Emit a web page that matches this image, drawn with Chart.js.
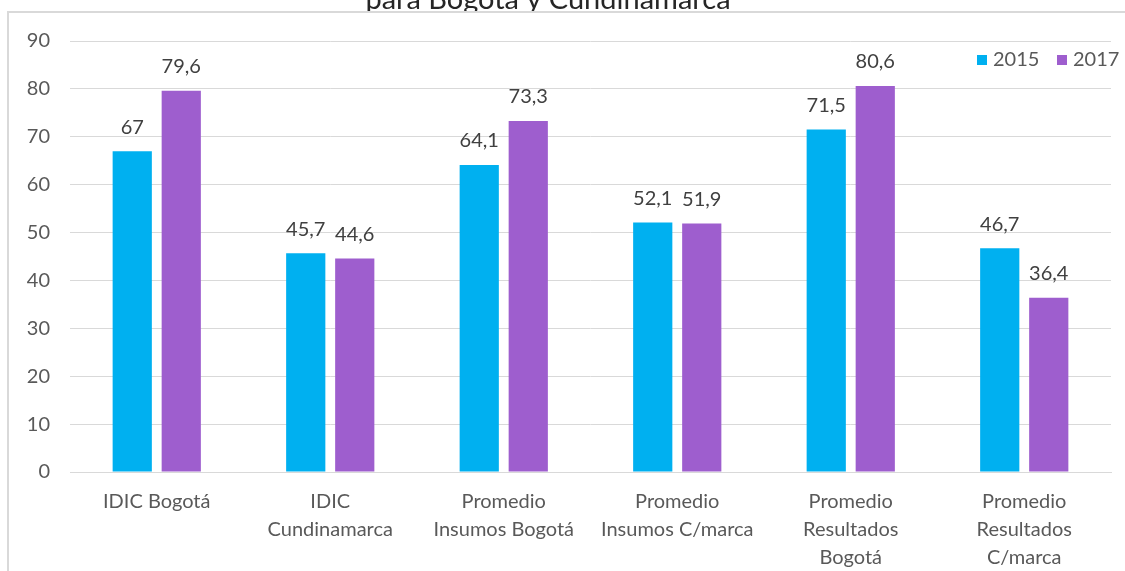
<!DOCTYPE html>
<html>
<head>
<meta charset="utf-8">
<script src="https://cdn.jsdelivr.net/npm/chart.js@4.4.1/dist/chart.umd.min.js"></script>
<style>
  html, body { margin: 0; padding: 0; background: #ffffff; }
  #wrap { width: 1125px; height: 571px; position: relative; }
</style>
</head>
<body>
<div id="wrap"><canvas id="c" width="1125" height="571"></canvas></div>
<script>
const categories = [
  ["IDIC Bogotá"],
  ["IDIC", "Cundinamarca"],
  ["Promedio", "Insumos Bogotá"],
  ["Promedio", "Insumos C/marca"],
  ["Promedio", "Resultados", "Bogotá"],
  ["Promedio", "Resultados", "C/marca"]
];
const seriesNames = ["2015", "2017"];
const values2015 = [67, 45.7, 64.1, 52.1, 71.5, 46.7];
const values2017 = [79.6, 44.6, 73.3, 51.9, 80.6, 36.4];
const titleText = "para Bogotá y Cundinamarca";
const yMin = 0, yMax = 90, yStep = 10;

const FONT = "Lato, 'Open Sans', sans-serif";
const colors = ["#00B0F0", "#9E5ECE"];

const frameAndTitle = {
  id: 'frameAndTitle',
  beforeDraw(chart) {
    const ctx = chart.ctx;
    ctx.save();
    ctx.fillStyle = '#ffffff';
    ctx.fillRect(0, 0, chart.width, chart.height);
    // title, cut off at the top
    ctx.save();
    ctx.beginPath();
    ctx.rect(0, 0, chart.width, 12);
    ctx.clip();
    ctx.fillStyle = '#262626';
    ctx.font = "29px " + FONT;
    ctx.textAlign = 'center';
    ctx.textBaseline = 'alphabetic';
    ctx.fillText(titleText, 548, 9);
    ctx.restore();
    // frame
    ctx.fillStyle = '#d9d9d9';
    ctx.fillRect(7, 11, chart.width, 2);
    ctx.fillRect(7, 11, 2, chart.height);
    ctx.restore();
  }
};

const valueLabels = {
  id: 'valueLabels',
  afterDatasetsDraw(chart) {
    const ctx = chart.ctx;
    ctx.save();
    ctx.fillStyle = '#404040';
    ctx.font = "20px " + FONT;
    ctx.textAlign = 'center';
    ctx.textBaseline = 'middle';
    chart.data.datasets.forEach((ds, i) => {
      const meta = chart.getDatasetMeta(i);
      meta.data.forEach((bar, j) => {
        const txt = String(ds.data[j]).replace('.', ',');
        ctx.fillText(txt, bar.x, bar.y - 24);
      });
    });
    ctx.restore();
  }
};

const customLegend = {
  id: 'customLegend',
  afterDraw(chart) {
    const ctx = chart.ctx;
    ctx.save();
    ctx.font = "20px " + FONT;
    ctx.textBaseline = 'middle';
    ctx.textAlign = 'left';
    const starts = [977, 1057];
    chart.data.datasets.forEach((ds, i) => {
      const x = starts[i];
      ctx.fillStyle = ds.backgroundColor;
      ctx.fillRect(x, 55, 10, 10);
      ctx.fillStyle = '#595959';
      ctx.fillText(ds.label, x + 16, 60);
    });
    ctx.restore();
  }
};

new Chart(document.getElementById('c'), {
  type: 'bar',
  data: {
    labels: categories,
    datasets: [
      { label: seriesNames[0], data: values2015, backgroundColor: colors[0] },
      { label: seriesNames[1], data: values2017, backgroundColor: colors[1] }
    ]
  },
  options: {
    responsive: false,
    animation: false,
    devicePixelRatio: 1,
    categoryPercentage: 0.565,
    barPercentage: 0.8,
    layout: { padding: { top: 41, right: 14, bottom: 0, left: 0 } },
    plugins: {
      legend: { display: false },
      tooltip: { enabled: false },
      title: { display: false }
    },
    scales: {
      x: {
        grid: { display: false, drawTicks: false },
        border: { display: true, color: '#d9d9d9', width: 1 },
        ticks: {
          color: '#595959',
          font: { family: FONT, size: 20, lineHeight: 1.4 },
          padding: 16,
          maxRotation: 0,
          autoSkip: false
        },
        afterFit(axis) { axis.height = 99; }
      },
      y: {
        min: yMin, max: yMax,
        grid: { color: '#d9d9d9', lineWidth: 1, drawTicks: false },
        border: { display: false },
        ticks: {
          stepSize: yStep,
          color: '#595959',
          font: { family: FONT, size: 20 },
          padding: 20
        },
        afterFit(axis) { axis.width = 70; }
      }
    }
  },
  plugins: [frameAndTitle, valueLabels, customLegend]
});
</script>
</body>
</html>
